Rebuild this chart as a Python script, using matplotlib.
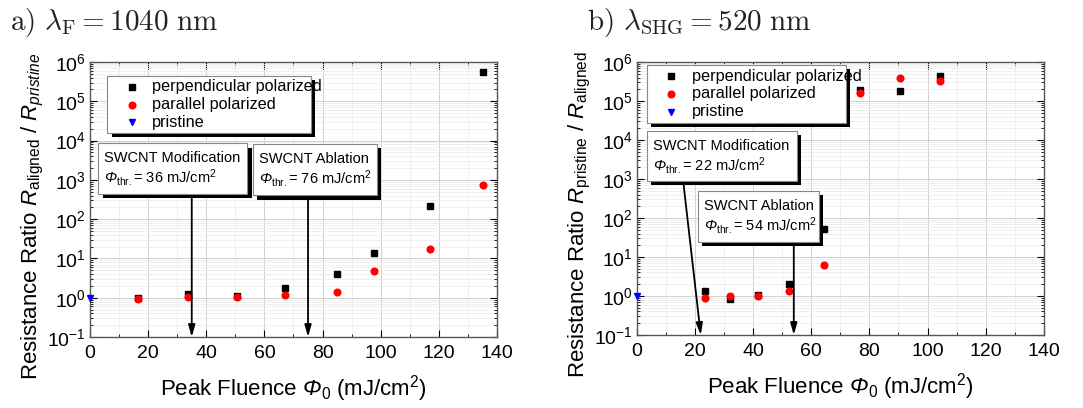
import matplotlib
matplotlib.use("Agg")
from matplotlib import pyplot as plt
from matplotlib.patches import Rectangle
from matplotlib.ticker import MultipleLocator, LogLocator
import numpy as np

plt.rcParams['font.family'] = ['Liberation Sans', 'DejaVu Sans']
plt.rcParams['mathtext.fontset'] = 'custom'
plt.rcParams['mathtext.rm'] = 'Liberation Sans'
plt.rcParams['mathtext.it'] = 'Liberation Sans:italic'
plt.rcParams['mathtext.bf'] = 'Liberation Sans:bold'
# sf slot used for the italic capital Phi (mathit forces Greek capitals upright)
plt.rcParams['mathtext.sf'] = 'Liberation Sans:italic'

# panel a) 1040 nm
a_perp_x = [16.6, 33.6, 50.4, 67.2, 84.8, 97.7, 116.8, 135.1]
a_perp_y = [1.0, 1.27, 1.08, 1.73, 4.0, 13.7, 210, 5.7e5]
a_par_x = [16.6, 33.6, 50.4, 67.2, 84.8, 97.7, 116.8, 135.1]
a_par_y = [0.95, 1.04, 1.04, 1.2, 1.37, 4.9, 17.7, 750]
a_thr = [35, 75]
a_thr_text = ["36", "76"]

# panel b) 520 nm
b_perp_x = [23.4, 31.9, 41.7, 52.5, 64.3, 76.8, 90.4, 104.3]
b_perp_y = [1.34, 0.84, 1.06, 1.99, 51, 1.9e5, 1.8e5, 4.4e5]
b_par_x = [23.4, 31.9, 41.7, 52.5, 64.3, 76.8, 90.4, 104.3]
b_par_y = [0.87, 0.98, 0.98, 1.34, 6.4, 1.65e5, 3.9e5, 3.3e5]
b_thr = [22, 54]
b_thr_text = ["22", "54"]

pristine_x = [0]
pristine_y = [1.0]

PHI = r'$\mathsf{Φ}$'


def shadow_box(ax, x0, y0, x1, y1, lines, fs=10.5):
    off_x, off_y = 0.011, -0.016
    ax.add_patch(Rectangle((x0 + off_x, y0 + off_y), x1 - x0, y1 - y0, transform=ax.transAxes,
                           facecolor='black', edgecolor='none', zorder=6))
    ax.add_patch(Rectangle((x0, y0), x1 - x0, y1 - y0, transform=ax.transAxes,
                           facecolor='white', edgecolor='#888888', lw=0.8, zorder=7))
    h = y1 - y0
    ax.text(x0 + 0.015, y1 - h * 0.3, lines[0], transform=ax.transAxes, fontsize=fs,
            va='center', ha='left', zorder=8)
    ax.text(x0 + 0.015, y1 - h * 0.68, lines[1], transform=ax.transAxes, fontsize=fs,
            va='center', ha='left', zorder=8)


def arrow(ax, x_start, y_start_frac, x_end):
    ax.annotate('', xy=(x_end, 0.1), xycoords='data',
                xytext=(x_start, y_start_frac), textcoords=ax.get_xaxis_transform(),
                arrowprops=dict(arrowstyle='-|>,head_length=0.7,head_width=0.2', color='black', lw=1.3,
                                shrinkA=0, shrinkB=0), zorder=5)


def setup(ax, ylabel):
    ax.set_yscale('log')
    ax.set_xlim(0, 140)
    ax.set_ylim(0.1, 1e6)
    ax.xaxis.set_major_locator(MultipleLocator(20))
    ax.xaxis.set_minor_locator(MultipleLocator(10))
    ax.yaxis.set_major_locator(LogLocator(base=10, numticks=10))
    ax.yaxis.set_minor_locator(LogLocator(base=10, subs=np.arange(2, 10), numticks=20))
    ax.grid(which='major', color='#d0d0d0', lw=0.7)
    ax.grid(which='minor', color='#ececec', lw=0.6)
    ax.set_axisbelow(True)
    ax.tick_params(which='both', direction='in', top=True, right=True, labelsize=14)
    ax.tick_params(which='major', length=5)
    ax.tick_params(which='minor', length=2.5)
    ax.tick_params(axis='x', pad=6)
    ax.tick_params(axis='y', pad=3)
    for s in ax.spines.values():
        s.set_color('#555555')
        s.set_linewidth(1.0)
    ax.set_xlabel('Peak Fluence ' + PHI + r'$_0$ (mJ/cm$^2$)', fontsize=16, labelpad=8)
    ax.set_ylabel(ylabel, fontsize=16)
    ax.yaxis.set_label_coords(-0.108, 0.44)


def plot_panel(ax, px, py, qx, qy):
    ax.plot(px, py, 's', color='black', ms=4.2, ls='none', label='perpendicular polarized', zorder=3)
    ax.plot(qx, qy, 'o', color='red', ms=4.8, ls='none', label='parallel polarized', zorder=4)
    ax.plot(pristine_x, pristine_y, 'v', color='blue', ms=4.5, ls='none', label='pristine',
            clip_on=False, zorder=4)


fig = plt.figure(figsize=(10.83, 4.08), dpi=100)
ax1 = fig.add_axes([0.0831, 0.174, 0.3758, 0.674])
ax2 = fig.add_axes([0.588, 0.179, 0.3758, 0.669])

plot_panel(ax1, a_perp_x, a_perp_y, a_par_x, a_par_y)
setup(ax1, r'Resistance Ratio $R_{\mathrm{aligned}}$ / $R_{pristine}$')
plot_panel(ax2, b_perp_x, b_perp_y, b_par_x, b_par_y)
setup(ax2, r'Resistance Ratio $R_{\mathrm{pristine}}$ / $R_{\mathrm{aligned}}$')

for ax, (lx0, ly0, lx1, ly1) in [(ax1, (0.042, 0.742, 0.543, 0.949)), (ax2, (0.025, 0.777, 0.514, 0.989))]:
    shadow_box(ax, lx0, ly0, lx1, ly1, ['', ''])
    h = ly1 - ly0
    handles, labels = ax.get_legend_handles_labels()
    for i, (hd, lb) in enumerate(zip(handles, labels)):
        yy = ly1 - h * (0.19 + 0.31 * i)
        ax.plot([lx0 + 0.06], [yy], marker=hd.get_marker(), color=hd.get_color(),
                ms=hd.get_markersize(), transform=ax.transAxes, zorder=9, clip_on=False)
        ax.text(lx0 + 0.11, yy, lb, transform=ax.transAxes, fontsize=11.7, va='center', zorder=9)

phi = PHI + r'$_{\mathrm{thr.}}$= '
shadow_box(ax1, 0.020, 0.520, 0.386, 0.705, ['SWCNT Modification', phi + a_thr_text[0] + r' mJ/cm$^2$'])
shadow_box(ax1, 0.400, 0.516, 0.705, 0.702, ['SWCNT Ablation', phi + a_thr_text[1] + r' mJ/cm$^2$'])
arrow(ax1, a_thr[0], 0.505, a_thr[0])
arrow(ax1, a_thr[1], 0.500, a_thr[1])

shadow_box(ax2, 0.025, 0.564, 0.393, 0.747, ['SWCNT Modification', phi + b_thr_text[0] + r' mJ/cm$^2$'])
shadow_box(ax2, 0.150, 0.341, 0.447, 0.527, ['SWCNT Ablation', phi + b_thr_text[1] + r' mJ/cm$^2$'])
arrow(ax2, 16.1, 0.550, b_thr[0])
arrow(ax2, b_thr[1], 0.326, b_thr[1])

fig.text(0.009, 0.945, r'$\mathrm{a)}\ \lambda_{\mathrm{F}} = 1040\ \mathrm{nm}$', fontsize=21,
         math_fontfamily='cm', va='center', ha='left', color='#222222')
fig.text(0.542, 0.945, r'$\mathrm{b)}\ \lambda_{\mathrm{SHG}} = 520\ \mathrm{nm}$', fontsize=21,
         math_fontfamily='cm', va='center', ha='left', color='#222222')

fig.savefig('out.png', dpi=100)
